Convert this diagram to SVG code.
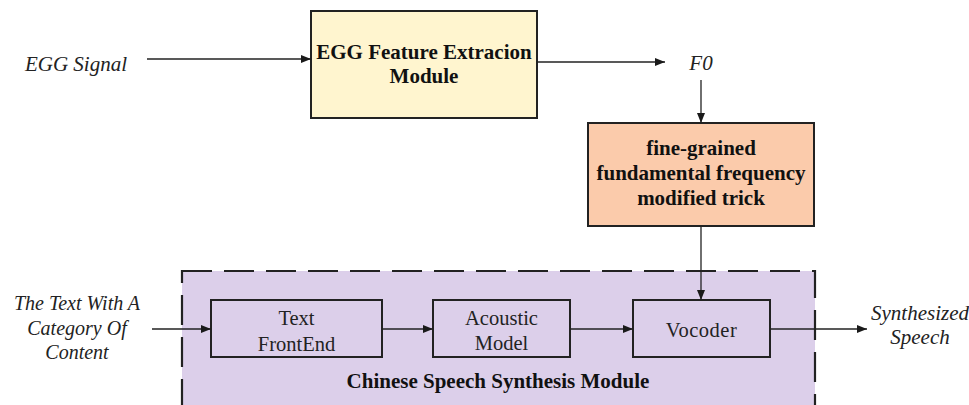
<svg xmlns="http://www.w3.org/2000/svg" width="969" height="405" viewBox="0 0 969 405">
  <defs>
    <marker id="arrow" viewBox="0 0 10 8" refX="10" refY="4" markerWidth="10" markerHeight="8" markerUnits="userSpaceOnUse" orient="auto">
      <path d="M0,0 L10,4 L0,8 Z" fill="#1a1a1a"/>
    </marker>
  </defs>
  <style>
    .box { stroke: #222; stroke-width: 2; }
    .inner { fill: #dccfea; stroke: #222; stroke-width: 2; }
    .edge { stroke: #222; stroke-width: 1.3; fill: none; marker-end: url(#arrow); }
    text { font-family: 'Liberation Serif', 'Times New Roman', serif; text-anchor: middle; }
    .title { font-weight: bold; font-size: 21px; fill: #111; }
    .label { font-size: 20.5px; fill: #222; }
    .io { font-style: italic; font-size: 21px; fill: #222; }
    .io-sm { font-style: italic; font-size: 20px; fill: #222; }
  </style>
  <rect width="969" height="405" fill="#ffffff"/>

  <!-- synthesis module container -->
  <g id="synthesis-module">
    <rect x="182" y="271" width="633" height="150" fill="#dccfea" stroke="#222" stroke-width="2.2" stroke-dasharray="30 12"/>
    <text class="title" x="498" y="388">Chinese Speech Synthesis Module</text>
  </g>

  <!-- feature extraction -->
  <g id="egg-feature-extraction">
    <rect class="box" x="311" y="11" width="226" height="107" fill="#fff5cf"/>
    <text class="title" x="424" y="59">EGG Feature Extracion</text>
    <text class="title" x="424" y="83">Module</text>
  </g>

  <!-- F0 modification -->
  <g id="f0-trick">
    <rect class="box" x="588" y="123" width="226" height="103" fill="#fbcbab"/>
    <text class="title" x="701" y="155">fine-grained</text>
    <text class="title" x="701" y="180">fundamental frequency</text>
    <text class="title" x="701" y="205">modified trick</text>
  </g>

  <g id="text-frontend">
    <rect class="inner" x="211" y="300" width="171" height="57"/>
    <text class="label" x="296.5" y="325">Text</text>
    <text class="label" x="296.5" y="351">FrontEnd</text>
  </g>

  <g id="acoustic-model">
    <rect class="inner" x="433" y="300" width="137" height="57"/>
    <text class="label" x="501.5" y="325">Acoustic</text>
    <text class="label" x="501.5" y="350">Model</text>
  </g>

  <g id="vocoder">
    <rect class="inner" x="633" y="300" width="137" height="57"/>
    <text class="label" x="701.5" y="337" letter-spacing="0.5">Vocoder</text>
  </g>

  <!-- inputs and outputs -->
  <g id="egg-signal">
    <text class="io" x="76" y="71">EGG Signal</text>
  </g>
  <g id="f0">
    <text class="io" x="701" y="70">F0</text>
  </g>
  <g id="text-input">
    <text class="io-sm" x="77" y="310">The Text With A</text>
    <text class="io-sm" x="77" y="335">Category Of</text>
    <text class="io-sm" x="77" y="359">Content</text>
  </g>
  <g id="speech-output">
    <text class="io" x="920" y="320">Synthesized</text>
    <text class="io" x="920" y="344">Speech</text>
  </g>

  <!-- connectors -->
  <g id="connectors">
    <line class="edge" x1="147" y1="59" x2="311" y2="59"/>
    <line class="edge" x1="537" y1="62" x2="665" y2="62"/>
    <line class="edge" x1="701" y1="80" x2="701" y2="123"/>
    <line class="edge" x1="701" y1="226" x2="701" y2="300"/>
    <line class="edge" x1="152" y1="329" x2="211" y2="329"/>
    <line class="edge" x1="382" y1="329" x2="433" y2="329"/>
    <line class="edge" x1="570" y1="329" x2="633" y2="329"/>
    <line class="edge" x1="770" y1="329" x2="867" y2="329"/>
  </g>
</svg>
